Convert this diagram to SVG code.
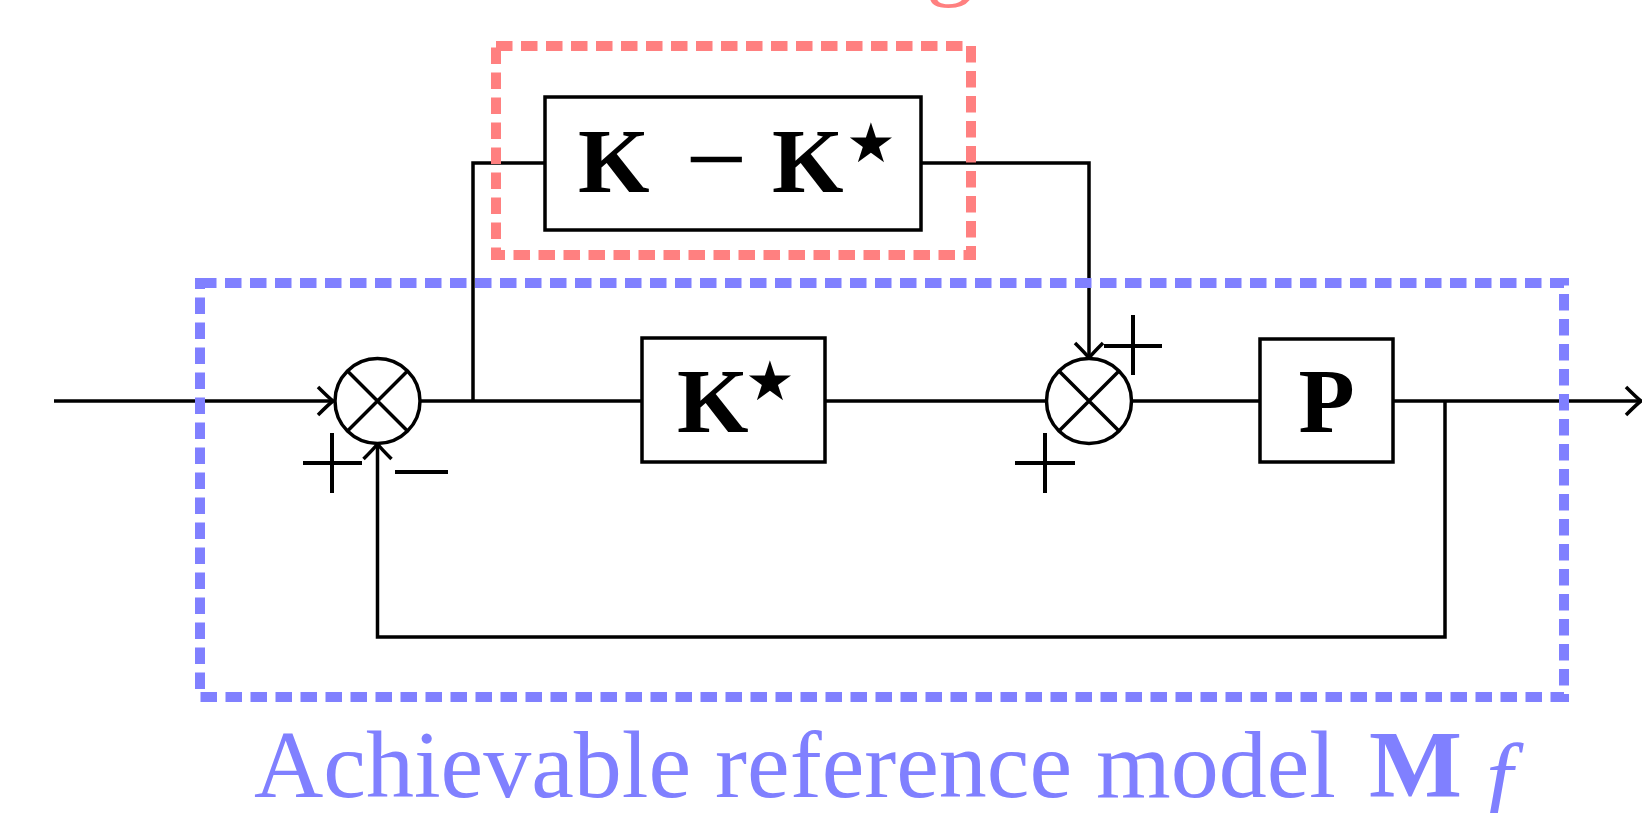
<svg xmlns="http://www.w3.org/2000/svg" width="1642" height="813" viewBox="0 0 1642 813">
<style>
.ln{fill:none;stroke:#000;stroke-width:3.5}
.box{fill:#fff;stroke:#000;stroke-width:3.5}
.sum{fill:#fff;stroke:#000;stroke-width:3.5}
.sign{fill:none;stroke:#000;stroke-width:4}
.bold{font-family:"Liberation Serif",serif;font-weight:bold;font-size:92px;fill:#000}
.minus{font-family:"Liberation Serif",serif;font-size:110px;fill:#000}
.star{font-family:"DejaVu Sans",sans-serif;font-size:55px;fill:#000}
.redbox{fill:none;stroke:#FF8080;stroke-width:10;stroke-dasharray:16.5 8.5}
.bluebox{fill:none;stroke:#8080FF;stroke-width:10;stroke-dasharray:16.5 8.5}
.bluetxt{font-family:"Liberation Serif",serif;font-size:96px;fill:#8080FF}
</style>
<defs>
<marker id="arr" viewBox="-18 -17 20 34" markerWidth="20" markerHeight="34" refX="0" refY="0" markerUnits="userSpaceOnUse" orient="auto">
<path d="M-15,-14 Q-4,-3 0,0 Q-4,3 -15,14" fill="none" stroke="#000" stroke-width="3.5"/>
</marker>
</defs>
<g id="connectors">
<path class="ln" d="M54,401 H333" marker-end="url(#arr)"/>
<path class="ln" d="M421,401 H642"/>
<path class="ln" d="M473,401 V163 H545"/>
<path class="ln" d="M921,163 H1089 V358" marker-end="url(#arr)"/>
<path class="ln" d="M825,401 H1046"/>
<path class="ln" d="M1132,401 H1260"/>
<path class="ln" d="M1393,401 H1641" marker-end="url(#arr)"/>
<path class="ln" d="M1445,401 V637 H377.5 V444" marker-end="url(#arr)"/>
</g>
<g id="sum1">
<circle class="sum" cx="377.5" cy="401" r="42.5"/>
<path class="ln" d="M347.5,371 L407.5,431 M407.5,371 L347.5,431"/>
<path class="sign" d="M303,463 H362 M332,433 V493"/>
<path class="sign" d="M395,472 H448"/>
</g>
<g id="sum2">
<circle class="sum" cx="1089" cy="401" r="42.5"/>
<path class="ln" d="M1059,371 L1119,431 M1119,371 L1059,431"/>
<path class="sign" d="M1015,463 H1075 M1045,433 V493"/>
<path class="sign" d="M1104,346 H1162 M1133,315 V375"/>
</g>
<g id="kdiff">
<rect class="box" x="545" y="97" width="376" height="133"/>
<text class="bold" x="578" y="192">K</text>
<text class="minus" x="685" y="196">−</text>
<text class="bold" x="772" y="192">K</text>
<text class="star" x="871" y="162" text-anchor="middle">★</text>
</g>
<g id="kstar">
<rect class="box" x="642" y="338" width="183" height="124"/>
<text class="bold" x="677" y="432">K</text>
<text class="star" x="770" y="400" text-anchor="middle">★</text>
</g>
<g id="plant">
<rect class="box" x="1260" y="339" width="133" height="123"/>
<text class="bold" x="1326.5" y="432" text-anchor="middle">P</text>
</g>
<g id="learned">
<rect class="redbox" x="496" y="46" width="475" height="209"/>
<text x="974" y="-12" text-anchor="end" style="font-family:'Liberation Serif',serif;font-size:96px;fill:#FF8080">Learning</text>
</g>
<g id="refmodel">
<rect class="bluebox" x="200" y="283" width="1364" height="414"/>
<text class="bluetxt" x="254" y="797">Achievable reference model</text>
<text class="bluetxt" x="1369" y="797" font-weight="bold" textLength="93" lengthAdjust="spacingAndGlyphs">M</text>
<text class="bluetxt" x="1486" y="810" font-style="italic" font-size="72px">f</text>
</g>
</svg>
